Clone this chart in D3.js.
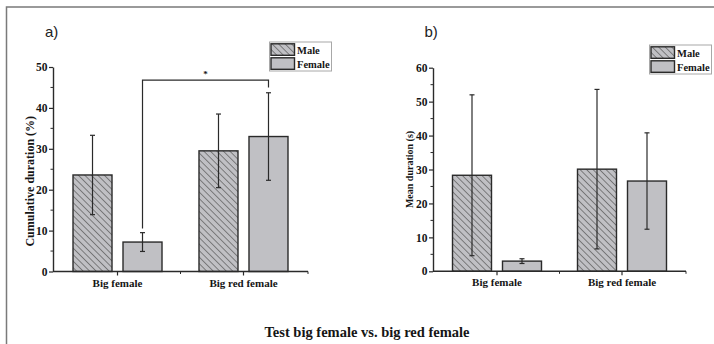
<!DOCTYPE html>
<html>
<head>
<meta charset="utf-8">
<script src="https://cdn.jsdelivr.net/npm/d3@7"></script>
<style>
  body { margin: 0; background: #fff; }
  svg { display: block; }
  .serif { font-family: "Liberation Serif", "Times New Roman", serif; font-weight: bold; fill: #151515; }
</style>
</head>
<body>
<div id="chart"></div>
<script>
const width = 714;
const height = 344;

const categories = ["Big female", "Big red female"];
const sexes = ["Male", "Female"];

// panel a) cumulative duration (%)
const cumMale = [23.6, 29.5];
const cumMaleErr = [9.7, 9.0];
const cumFemale = [7.2, 33.0];
const cumFemaleErr = [2.3, 10.7];
const cumTicks = [0, 10, 20, 30, 40, 50];

// panel b) mean duration (s)
const meanMale = [28.3, 30.1];
const meanMaleErr = [23.7, 23.5];
const meanFemale = [3.0, 26.6];
const meanFemaleErr = [0.7, 14.2];
const meanTicks = [0, 10, 20, 30, 40, 50, 60];

const barFill = "#c0c0c4";
const ink = "#2a2a2a";

let svg = d3.select("#chart")
            .append("svg")
            .attr("width", width)
            .attr("height", height);

// hatch for male bars
let defs = svg.append("defs");
defs.append("pattern")
    .attr("id", "hatch")
    .attr("patternUnits", "userSpaceOnUse")
    .attr("width", 4.6)
    .attr("height", 4.6)
    .attr("patternTransform", "rotate(-45)")
    .call(p => {
      p.append("rect").attr("width", 4.6).attr("height", 4.6).attr("fill", barFill);
      p.append("line").attr("x1", 0).attr("y1", 0).attr("x2", 0).attr("y2", 4.6)
       .attr("stroke", "#4a4a4a").attr("stroke-width", 1.2);
    });

// figure frame (top + left edge)
svg.append("path")
   .attr("d", `M6.5,${height} V7 H${width}`)
   .attr("fill", "none")
   .attr("stroke", "#7a7a7a")
   .attr("stroke-width", 1.5);

function drawPanel(cfg) {
  const g = svg.append("g");

  const x0 = d3.scaleBand().domain(categories).range(cfg.xRange).paddingOuter(0.012);
  const x1 = d3.scaleBand().domain(sexes).range([-44.5, 44.5]).paddingInner(0.22);
  const y = d3.scaleLinear().domain(cfg.yDomain).range(cfg.yRange);

  const rows = [];
  categories.forEach((c, i) => {
    rows.push({ cat: c, sex: "Male", v: cfg.male[i], e: cfg.maleErr[i] });
    rows.push({ cat: c, sex: "Female", v: cfg.female[i], e: cfg.femaleErr[i] });
  });
  const cx = d => x0(d.cat) + x0.bandwidth() / 2 + x1(d.sex) + x1.bandwidth() / 2;

  // bars
  g.selectAll("rect.bar")
   .data(rows)
   .enter()
   .append("rect")
   .attr("class", "bar")
   .attr("x", d => x0(d.cat) + x0.bandwidth() / 2 + x1(d.sex))
   .attr("width", x1.bandwidth())
   .attr("y", d => y(d.v))
   .attr("height", d => y(0) - y(d.v))
   .attr("fill", d => d.sex === "Male" ? "url(#hatch)" : barFill)
   .attr("stroke", ink)
   .attr("stroke-width", 1.4);

  // error bars
  const err = g.selectAll("g.err").data(rows).enter().append("g").attr("class", "err")
               .attr("stroke", ink).attr("stroke-width", 1.2);
  err.append("line")
     .attr("x1", cx).attr("x2", cx)
     .attr("y1", d => y(d.v + d.e)).attr("y2", d => y(d.v - d.e));
  err.append("line")
     .attr("x1", d => cx(d) - 2.5).attr("x2", d => cx(d) + 2.5)
     .attr("y1", d => y(d.v + d.e)).attr("y2", d => y(d.v + d.e));
  err.append("line")
     .attr("x1", d => cx(d) - 2.5).attr("x2", d => cx(d) + 2.5)
     .attr("y1", d => y(d.v - d.e)).attr("y2", d => y(d.v - d.e));

  // y axis
  const yAxis = d3.axisLeft(y).tickValues(cfg.ticks).tickSize(4).tickSizeOuter(0);
  const ya = g.append("g")
              .attr("transform", `translate(${cfg.xRange[0]},0)`)
              .call(yAxis);
  ya.select(".domain").attr("stroke", ink).attr("stroke-width", 1.4);
  ya.selectAll(".tick line").attr("stroke", ink).attr("stroke-width", 1.2);
  ya.selectAll(".tick text")
    .attr("class", "serif")
    .attr("x", -5.5)
    .style("font-size", "11.5px");
  // minor ticks
  const minor = d3.pairs(cfg.ticks).map(p => (p[0] + p[1]) / 2);
  ya.selectAll("line.minor")
    .data(minor)
    .enter()
    .append("line")
    .attr("class", "minor")
    .attr("x1", -2.5).attr("x2", 0)
    .attr("y1", d => y(d)).attr("y2", d => y(d))
    .attr("stroke", ink).attr("stroke-width", 1);

  // x axis
  const xa = g.append("g").attr("transform", `translate(0,${y(0)})`);
  xa.append("line")
    .attr("x1", cfg.xRange[0]).attr("x2", cfg.xRange[1])
    .attr("stroke", ink).attr("stroke-width", 1.4);
  const bounds = [x0(categories[0]), x0(categories[1]), cfg.xRange[1]];
  xa.selectAll("line.minor")
    .data(bounds.slice(1))
    .enter()
    .append("line")
    .attr("x1", d => d).attr("x2", d => d)
    .attr("y1", 0).attr("y2", 2.5)
    .attr("stroke", ink).attr("stroke-width", 1);
  xa.selectAll("line.major")
    .data(categories)
    .enter()
    .append("line")
    .attr("x1", d => x0(d) + x0.bandwidth() / 2).attr("x2", d => x0(d) + x0.bandwidth() / 2)
    .attr("y1", 0).attr("y2", 4)
    .attr("stroke", ink).attr("stroke-width", 1.2);
  xa.selectAll("text")
    .data(categories)
    .enter()
    .append("text")
    .attr("class", "serif")
    .attr("x", d => x0(d) + x0.bandwidth() / 2)
    .attr("y", 15)
    .attr("text-anchor", "middle")
    .style("font-size", "11px")
    .text(d => d);

  // y label
  const midY = (cfg.yRange[0] + cfg.yRange[1]) / 2;
  g.append("text")
   .attr("class", "serif")
   .attr("transform", `translate(${cfg.labelX},${midY + cfg.labelShift}) rotate(-90)`)
   .attr("text-anchor", "middle")
   .style("font-size", cfg.labelSize)
   .text(cfg.label);

  // panel letter
  g.append("text")
   .attr("x", cfg.letterX)
   .attr("y", 37)
   .style("font-family", "'Liberation Sans', Arial, sans-serif")
   .style("font-size", "15px")
   .attr("fill", "#222")
   .text(cfg.letter);

  // legend
  const lg = g.append("g").attr("transform", `translate(${cfg.legend[0]},${cfg.legend[1]})`);
  lg.append("rect")
    .attr("width", 62).attr("height", 29)
    .attr("fill", "#fff").attr("stroke", "#a8a8a8").attr("stroke-width", 1);
  lg.selectAll("rect.sw")
    .data(sexes)
    .enter()
    .append("rect")
    .attr("class", "sw")
    .attr("x", 1.5)
    .attr("y", (d, i) => 1.8 + i * 14)
    .attr("width", 23.5).attr("height", 11.5)
    .attr("fill", d => d === "Male" ? "url(#hatch)" : barFill)
    .attr("stroke", ink).attr("stroke-width", 1.4);
  lg.selectAll("text")
    .data(sexes)
    .enter()
    .append("text")
    .attr("class", "serif")
    .attr("x", 27.5)
    .attr("y", (d, i) => 11.5 + i * 14)
    .style("font-size", "10.5px")
    .text(d => d);

  return { x0, x1, y, cx };
}

const pa = drawPanel({
  xRange: [53, 308], yDomain: [0, 50], yRange: [271.5, 67], ticks: cumTicks,
  male: cumMale, maleErr: cumMaleErr, female: cumFemale, femaleErr: cumFemaleErr,
  label: "Cumulative duration (%)", labelX: 34, labelShift: 12, labelSize: "12px",
  letter: "a)", letterX: 45, legend: [269.5, 42]
});

drawPanel({
  xRange: [433, 686], yDomain: [0, 60], yRange: [271.3, 67.7], ticks: meanTicks,
  male: meanMale, maleErr: meanMaleErr, female: meanFemale, femaleErr: meanFemaleErr,
  label: "Mean duration (s)", labelX: 413, labelShift: 0, labelSize: "10px",
  letter: "b)", letterX: 424.5, legend: [649.5, 45]
});

// significance bracket between the female bars in panel a
const sigLeft = pa.cx({ cat: categories[0], sex: "Female" });
const sigRight = pa.cx({ cat: categories[1], sex: "Female" });
svg.append("path")
   .attr("d", `M${sigLeft},${pa.y(10.5)} V${pa.y(46.8)} H${sigRight} V${pa.y(45)}`)
   .attr("fill", "none")
   .attr("stroke", ink)
   .attr("stroke-width", 1.2);
svg.append("text")
   .attr("class", "serif")
   .attr("x", (sigLeft + sigRight) / 2)
   .attr("y", pa.y(46.8) - 3)
   .attr("text-anchor", "middle")
   .style("font-size", "9px")
   .text("*");

svg.append("text")
   .attr("class", "serif")
   .attr("x", 367)
   .attr("y", 337)
   .attr("text-anchor", "middle")
   .style("font-size", "14.5px")
   .text("Test big female vs. big red female");
</script>
</body>
</html>
